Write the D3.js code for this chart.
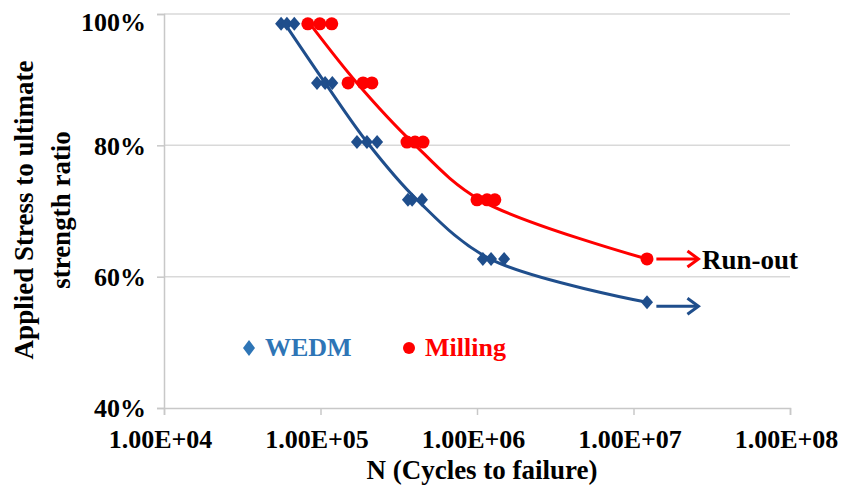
<!DOCTYPE html>
<html><head><meta charset="utf-8">
<script src="https://cdn.jsdelivr.net/npm/d3@7"></script>
<style>body{margin:0;background:#fff}svg{display:block}text{font-family:"Liberation Serif","Times New Roman",serif;font-weight:bold}</style>
</head><body><svg id="c" width="854" height="486"></svg>
<script>
// ---- data ----
const xTicks = [1e4, 1e5, 1e6, 1e7, 1e8];
const xTickLabels = ["1.00E+04", "1.00E+05", "1.00E+06", "1.00E+07", "1.00E+08"];
const yTicks = [0.4, 0.6, 0.8, 1.0];
const yTickLabels = ["40%", "60%", "80%", "100%"];
// WEDM specimens [cycles, stress ratio]
const wedmN = [56000, 61000, 68000, 95000, 107000, 119000, 171000, 198000, 230000, 362000, 385000, 445000, 1090000, 1230000, 1490000, 12200000];
const wedmS = [0.985, 0.985, 0.985, 0.895, 0.895, 0.895, 0.805, 0.805, 0.805, 0.717, 0.717, 0.717, 0.627, 0.627, 0.627, 0.561];
// Milling specimens
const millN = [83000, 99000, 118000, 150000, 187000, 213000, 357000, 402000, 452000, 1000000, 1160000, 1300000, 12200000];
const millS = [0.985, 0.985, 0.985, 0.895, 0.895, 0.895, 0.805, 0.805, 0.805, 0.717, 0.717, 0.717, 0.627];
// fitted S-N curves
const wedmCurveN = [59300, 107000, 198000, 414000, 1210000, 12200000];
const wedmCurveS = [0.985, 0.895, 0.805, 0.717, 0.627, 0.561];
const millCurveN = [85700, 171000, 385000, 1045000, 12200000];
const millCurveS = [0.985, 0.895, 0.805, 0.717, 0.627];
// run-out arrows [start N, end N, stress]
const runoutWedm = [14000000, 26000000, 0.555];
const runoutMill = [14000000, 26000000, 0.627];

const blue = "#1F4E8C", red = "#FF0000", legBlue = "#2E75B6";
const svg = d3.select("#c");
const x = d3.scaleLog().domain([1e4, 1e8]).range([164, 790]);
const y = d3.scaleLinear().domain([0.4, 1.0]).range([408, 14]);

// gridlines
svg.append("g").selectAll("line").data(yTicks.filter(d => d > 0.4)).join("line")
  .attr("x1", 164).attr("x2", 790).attr("y1", d => y(d)).attr("y2", d => y(d))
  .attr("stroke", "#d9d9d9").attr("stroke-width", 1.5);

// axes
const xAxis = svg.append("g").attr("transform", `translate(0,${y(0.4)})`)
  .call(d3.axisBottom(x).tickValues(xTicks).tickSize(7).tickFormat((d, i) => xTickLabels[i]));
const yAxis = svg.append("g").attr("transform", `translate(${x(1e4)},0)`)
  .call(d3.axisLeft(y).tickValues(yTicks).tickSize(7).tickFormat((d, i) => yTickLabels[i]));
[xAxis, yAxis].forEach(a => {
  a.select(".domain").attr("stroke", "#c8c8c8").attr("stroke-width", 1.5);
  a.selectAll(".tick line").attr("stroke", "#c8c8c8").attr("stroke-width", 1.5);
  a.selectAll("text").attr("font-family", '"Liberation Serif",serif').attr("font-weight", "bold")
    .attr("font-size", 26).attr("fill", "#000");
});
xAxis.selectAll("text").attr("dy", null).attr("y", 40).attr("dx", -4);
yAxis.selectAll("text").attr("x", -18).attr("dy", "0.34em")
  .attr("y", d => Math.max(0, y(d) < 20 ? 8 : 0));

// axis titles
svg.append("text").attr("x", 482).attr("y", 479).attr("text-anchor", "middle")
  .attr("font-size", 27).text("N (Cycles to failure)");
const yt = svg.append("text").attr("transform", "translate(0,210) rotate(-90)").attr("text-anchor", "middle").attr("font-size", 27);
yt.append("tspan").attr("x", 0).attr("y", 33).text("Applied Stress to ultimate");
yt.append("tspan").attr("x", 0).attr("y", 70).text("strength ratio");

// curves
const line = d3.line().x(d => x(d[0])).y(d => y(d[1])).curve(d3.curveCatmullRom.alpha(0.5));
svg.append("path").datum(wedmCurveN.map((n, i) => [n, wedmCurveS[i]])).attr("d", line)
  .attr("fill", "none").attr("stroke", blue).attr("stroke-width", 3);
svg.append("path").datum(millCurveN.map((n, i) => [n, millCurveS[i]])).attr("d", line)
  .attr("fill", "none").attr("stroke", red).attr("stroke-width", 3);

// markers
const diamond = "M0,-7L6,0L0,7L-6,0Z";
svg.append("g").selectAll("path").data(wedmN.map((n, i) => [n, wedmS[i]])).join("path")
  .attr("d", diamond).attr("transform", d => `translate(${x(d[0])},${y(d[1])})`).attr("fill", blue);
svg.append("g").selectAll("circle").data(millN.map((n, i) => [n, millS[i]])).join("circle")
  .attr("cx", d => x(d[0])).attr("cy", d => y(d[1])).attr("r", 6.5).attr("fill", red);

// run-out arrows
function arrow(r, col) {
  const x1 = x(r[0]), x2 = x(r[1]), yy = y(r[2]);
  const g = svg.append("g").attr("stroke", col).attr("stroke-width", 3).attr("fill", "none");
  g.append("line").attr("x1", x1).attr("x2", x2 - 1).attr("y1", yy).attr("y2", yy);
  g.append("path").attr("d", `M${x2 - 11},${yy - 8}L${x2},${yy}L${x2 - 11},${yy + 8}`);
}
arrow(runoutMill, red);
arrow(runoutWedm, blue);
svg.append("text").attr("x", 702).attr("y", y(runoutMill[2]) + 10).attr("font-size", 27).attr("fill", "#000").text("Run-out");

// legend
svg.append("path").attr("d", "M0,-8L6,0L0,8L-6,0Z").attr("transform", "translate(249,348)").attr("fill", legBlue);
svg.append("text").attr("x", 265).attr("y", 356).attr("font-size", 26).attr("fill", legBlue).text("WEDM");
svg.append("circle").attr("cx", 409).attr("cy", 348).attr("r", 6).attr("fill", red);
svg.append("text").attr("x", 425).attr("y", 356).attr("font-size", 26).attr("fill", red).text("Milling");
</script></body></html>
